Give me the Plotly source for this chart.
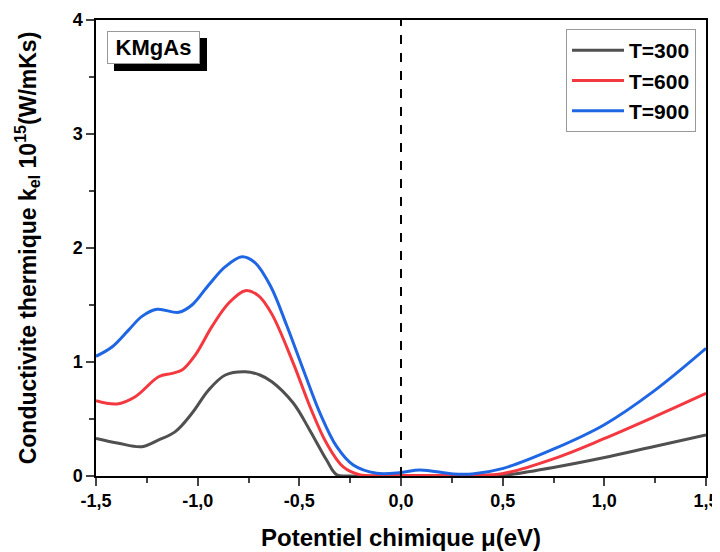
import plotly.graph_objects as go

mu_300 = [-1.5, -1.389, -1.274, -1.192, -1.11, -1.028, -0.946, -0.864, -0.766, -0.694, -0.635, -0.53, -0.448, -0.366, -0.316, -0.25, 0.0, 0.25, 0.45, 0.503, 0.749, 0.995, 1.24, 1.5]
k_300 = [0.33, 0.287, 0.257, 0.316, 0.389, 0.55, 0.754, 0.886, 0.915, 0.886, 0.827, 0.64, 0.40, 0.14, 0.01, 0.0, 0.0, 0.0, 0.0, 0.005, 0.075, 0.16, 0.257, 0.36]

mu_600 = [-1.5, -1.397, -1.307, -1.192, -1.126, -1.077, -1.012, -0.93, -0.848, -0.766, -0.70, -0.635, -0.53, -0.448, -0.366, -0.284, -0.2, -0.1, 0.0, 0.2, 0.35, 0.503, 0.749, 0.995, 1.24, 1.5]
k_600 = [0.66, 0.632, 0.696, 0.871, 0.90, 0.93, 1.061, 1.31, 1.515, 1.626, 1.58, 1.42, 0.99, 0.61, 0.287, 0.08, 0.01, 0.004, 0.004, 0.004, 0.006, 0.022, 0.15, 0.325, 0.515, 0.725]

mu_900 = [-1.5, -1.42, -1.34, -1.274, -1.20, -1.093, -1.028, -0.946, -0.864, -0.782, -0.717, -0.64, -0.562, -0.48, -0.398, -0.316, -0.235, -0.12, 0.0, 0.093, 0.257, 0.35, 0.503, 0.749, 1.0, 1.24, 1.5]
k_900 = [1.05, 1.134, 1.28, 1.40, 1.462, 1.436, 1.50, 1.675, 1.836, 1.924, 1.87, 1.66, 1.32, 0.93, 0.55, 0.257, 0.096, 0.024, 0.03, 0.053, 0.018, 0.018, 0.067, 0.235, 0.45, 0.74, 1.12]

series_names = ["T=300", "T=600", "T=900"]
colors = ["#505050", "#f4383f", "#1e66e3"]

x_ticks = [-1.5, -1.0, -0.5, 0.0, 0.5, 1.0, 1.5]
x_ticktext = ["-1,5", "-1,0", "-0,5", "0,0", "0,5", "1,0", "1,5"]
y_ticks = [0, 1, 2, 3, 4]

FONT = "Liberation Sans, Arial, sans-serif"

fig = go.Figure()
for mu, k, name, c in zip([mu_300, mu_600, mu_900], [k_300, k_600, k_900], series_names, colors):
    fig.add_trace(go.Scatter(x=mu, y=k, mode="lines", name="<b>%s</b>" % name,
                             line=dict(color=c, width=3, shape="spline", smoothing=1.0)))

fig.add_shape(type="line", xref="x", yref="paper", x0=0, x1=0, y0=0, y1=1,
              line=dict(color="black", width=2, dash="dash"))

# KMgAs label with shadow
for xs, ys, bg, bc in [(7, -7, "black", "black"), (0, 0, "white", "#999999")]:
    fig.add_annotation(xref="paper", yref="paper", x=0.0943, y=0.9397,
                       xanchor="center", yanchor="middle",
                       text="<b>KMgAs</b>" if bg == "white" else "",
                       showarrow=False, xshift=xs, yshift=ys, width=91, height=31,
                       bgcolor=bg, bordercolor=bc, borderwidth=1, borderpad=0,
                       font=dict(family=FONT, size=22, color="black"))

fig.update_layout(
    width=712, height=544,
    margin=dict(l=88, r=14, t=12, b=76),
    plot_bgcolor="white", paper_bgcolor="white",
    font=dict(family=FONT, color="black"),
    legend=dict(x=0.9836, y=0.980, xanchor="right", yanchor="top",
                bordercolor="#999999", borderwidth=1, bgcolor="white",
                font=dict(family=FONT, size=21, color="black"),
                itemwidth=52, tracegroupgap=0),
    xaxis=dict(range=[-1.5, 1.5], tickvals=x_ticks, ticktext=["<b>%s</b>" % t for t in x_ticktext],
               ticks="outside", ticklen=8, tickwidth=1.5, showline=True, linecolor="black", linewidth=1.5,
               mirror=True, showgrid=False, zeroline=False, automargin=False,
               minor=dict(dtick=0.25, ticks="outside", ticklen=5, tickwidth=1.5, showgrid=False),
               tickfont=dict(size=18, family=FONT),
               title=dict(text="<b>Potentiel chimique μ(eV)</b>", font=dict(size=24, family=FONT), standoff=19)),
    yaxis=dict(range=[0, 4], tickvals=y_ticks, ticktext=["<b>%d</b>" % t for t in y_ticks],
               ticks="outside", ticklen=8, tickwidth=1.5, showline=True, linecolor="black", linewidth=1.5,
               mirror=True, showgrid=False, zeroline=False, automargin=False,
               minor=dict(dtick=0.5, ticks="outside", ticklen=5, tickwidth=1.5, showgrid=False),
               tickfont=dict(size=18, family=FONT),
               title=dict(text="<b>Conductivite thermique k<sub>el</sub> 10<sup>15</sup>(W/mKs)</b>",
                          font=dict(size=23, family=FONT), standoff=30)),
)

fig.write_html("out.html")
